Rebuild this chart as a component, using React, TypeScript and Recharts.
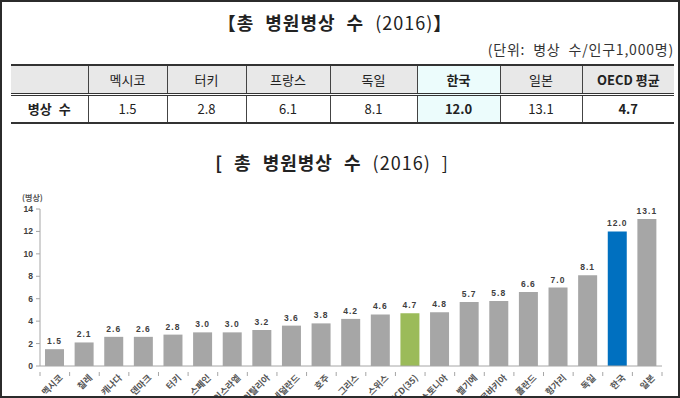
import { Bar, BarChart, Cell, LabelList, XAxis, YAxis } from 'recharts'

const countries = [
  '멕시코', '칠레', '캐나다', '덴마크', '터키', '스페인', '이스라엘', '이탈리아', '네덜란드', '호주', '그리스',
  '스위스', 'OECD(35)', '에스토니아', '벨기에', '슬로바키아', '폴란드', '헝가리', '독일', '한국', '일본',
]
const beds = [1.5, 2.1, 2.6, 2.6, 2.8, 3.0, 3.0, 3.2, 3.6, 3.8, 4.2, 4.6, 4.7, 4.8, 5.7, 5.8, 6.6, 7.0, 8.1, 12.0, 13.1]
const yTicks = [0, 2, 4, 6, 8, 10, 12, 14]

const tableCols = ['멕시코', '터키', '프랑스', '독일', '한국', '일본', 'OECD 평균']
const tableVals = ['1.5', '2.8', '6.1', '8.1', '12.0', '13.1', '4.7']
const boldCols = ['한국', 'OECD 평균']

const data = countries.map((name, i) => ({ name, value: beds[i] }))

const FONT = '"Noto Sans CJK KR", "Noto Sans", sans-serif'
const NUM_FONT = 'Arial, "Liberation Sans", sans-serif'
const GRAY = '#a6a6a6'
const colorFor = (name: string) => (name === '한국' ? '#0070c0' : name === 'OECD(35)' ? '#9bbb59' : GRAY)

const CHART_LEFT = 40
const PLOT_W = 622
const BAND = PLOT_W / countries.length

function XTick(props: any) {
  const { x, y, payload, index } = props
  const axisY = y - 6
  return (
    <g>
      <line x1={x - BAND / 2} x2={x - BAND / 2} y1={axisY} y2={axisY + 4} stroke="#a6a6a6" />
      {index === countries.length - 1 && (
        <line x1={x + BAND / 2} x2={x + BAND / 2} y1={axisY} y2={axisY + 4} stroke="#a6a6a6" />
      )}
      <g transform={`translate(${x + 6},${axisY + 4})`}>
        <text
          x={0}
          y={0}
          transform="rotate(-45)"
          textAnchor="end"
          dominantBaseline="central"
          fontSize={9}
          fontWeight={600}
          fill="#555"
          fontFamily={FONT}
        >
          {payload.value}
        </text>
      </g>
    </g>
  )
}

export default function App() {
  const cellBase: React.CSSProperties = {
    borderLeft: '1px solid #444',
    textAlign: 'center',
    padding: 0,
  }
  return (
    <div
      style={{
        position: 'absolute', left: 0, top: 0, width: 680, height: 398,
        border: '2px solid #2b2b2b', boxSizing: 'border-box', background: '#fff',
        fontFamily: FONT, color: '#222', overflow: 'hidden',
      }}
    >
      <div
        style={{
          position: 'absolute', left: 0, top: 7, width: 666, textAlign: 'center',
          fontSize: 18, wordSpacing: 6, letterSpacing: 1,
        }}
      >
        <b>【총 병원병상 수</b> <span>(2016)</span><b>】</b>
      </div>
      <div style={{ position: 'absolute', right: 4, top: 37, fontSize: 14, color: '#333', wordSpacing: 4, letterSpacing: 0.8 }}>
        (단위: 병상 수/인구1,000명)
      </div>

      <table
        style={{
          position: 'absolute', left: 9, top: 62, width: 663, borderCollapse: 'collapse',
          fontSize: 13, tableLayout: 'fixed',
        }}
      >
        <colgroup>
          <col style={{ width: 77 }} />
          <col style={{ width: 79 }} />
          <col style={{ width: 79 }} />
          <col style={{ width: 84 }} />
          <col style={{ width: 87 }} />
          <col style={{ width: 83 }} />
          <col style={{ width: 82 }} />
          <col style={{ width: 92 }} />
        </colgroup>
        <tbody>
          <tr style={{ height: 29, background: '#e8e8e8', borderTop: '2px solid #333', borderBottom: '3px double #333' }}>
            <td style={{ padding: 0 }} />
            {tableCols.map((c) => (
              <td
                key={c}
                style={{
                  ...cellBase,
                  fontWeight: boldCols.includes(c) ? 700 : 400,
                  background: c === '한국' ? '#ecfcfc' : undefined,
                }}
              >
                {c}
              </td>
            ))}
          </tr>
          <tr style={{ height: 29, borderBottom: '2px solid #333' }}>
            <td style={{ textAlign: 'center', fontWeight: 700, padding: 0, wordSpacing: 4 }}>병상 수</td>
            {tableVals.map((v, i) => (
              <td
                key={tableCols[i]}
                style={{
                  ...cellBase,
                  fontWeight: boldCols.includes(tableCols[i]) ? 700 : 400,
                  background: tableCols[i] === '한국' ? '#ecfcfc' : undefined,
                }}
              >
                {v}
              </td>
            ))}
          </tr>
        </tbody>
      </table>

      <div
        style={{
          position: 'absolute', left: 0, top: 147, width: 660, textAlign: 'center',
          fontSize: 18, wordSpacing: 6, letterSpacing: 1,
        }}
      >
        <b>[ 총 병원병상 수</b> <span>(2016) ]</span>
      </div>
      <div style={{ position: 'absolute', left: 20, top: 190, fontSize: 8, fontWeight: 700, color: '#555' }}>
        (병상)
      </div>

      <div style={{ position: 'absolute', left: -2, top: 178 }}>
        <BarChart
          width={680}
          height={232}
          data={data}
          margin={{ top: 29, right: 18, left: 0, bottom: 0 }}
          barSize={19}
          style={{ overflow: 'visible' }}
        >
          <YAxis
            width={CHART_LEFT}
            domain={[0, 14]}
            ticks={yTicks}
            interval={0}
            tickSize={4}
            tickMargin={3}
            axisLine={{ stroke: '#a6a6a6' }}
            tickLine={{ stroke: '#a6a6a6' }}
            tick={{ fontSize: 8.5, fontWeight: 700, fill: '#404040', fontFamily: NUM_FONT }}
          />
          <XAxis
            dataKey="name"
            height={46}
            interval={0}
            tickLine={false}
            axisLine={{ stroke: '#a6a6a6' }}
            tick={<XTick />}
            tickMargin={6}
          />
          <Bar dataKey="value" isAnimationActive={false}>
            {data.map((d) => (
              <Cell key={d.name} fill={colorFor(d.name)} />
            ))}
            <LabelList
              dataKey="value"
              position="top"
              offset={5}
              formatter={(v: any) => Number(v).toFixed(1)}
              style={{ fontSize: 8.5, fontWeight: 700, fill: '#404040', letterSpacing: 1, fontFamily: NUM_FONT }}
            />
          </Bar>
        </BarChart>
      </div>
    </div>
  )
}
